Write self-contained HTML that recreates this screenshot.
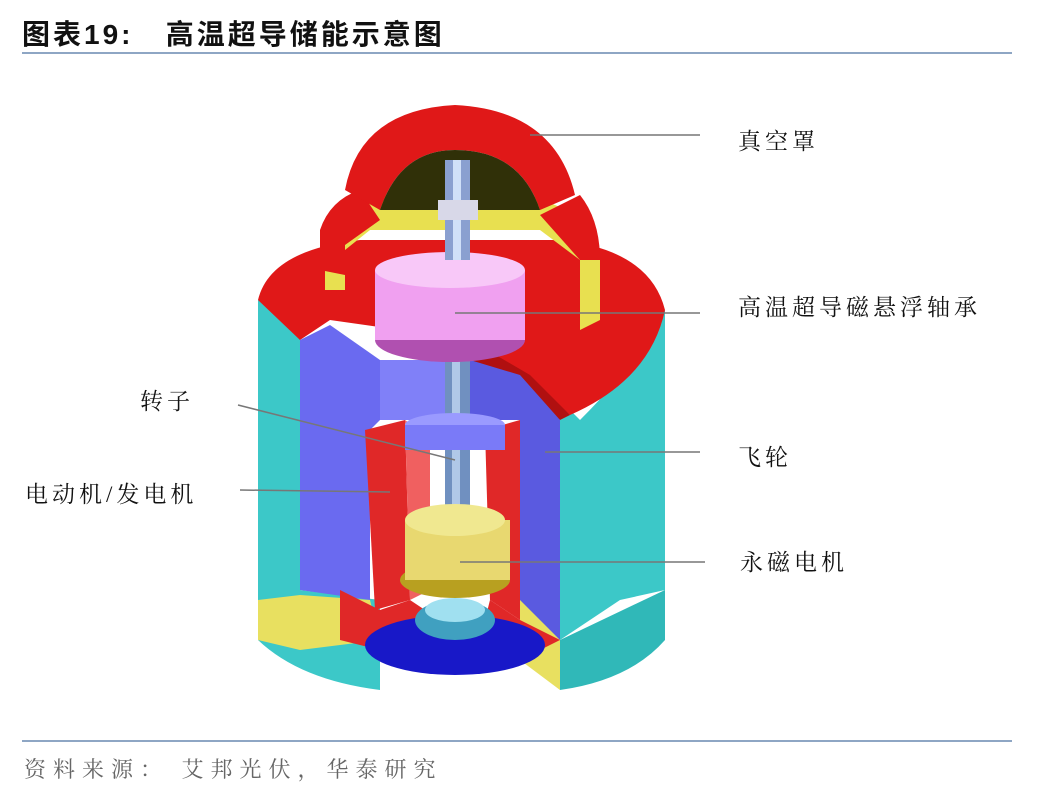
<!DOCTYPE html>
<html><head><meta charset="utf-8"><style>
body{margin:0;background:#fff;width:1048px;height:792px;overflow:hidden;position:relative;font-family:"Liberation Sans","Noto Sans CJK SC",sans-serif}
.t{position:absolute;left:22px;top:13px;font-size:28px;font-weight:bold;color:#111;letter-spacing:3px}
.l1{position:absolute;left:22px;top:52px;width:990px;height:2px;background:#8ea6c4}
.l2{position:absolute;left:22px;top:740px;width:990px;height:2px;background:#8ea6c4}
.src{position:absolute;left:24px;top:753px;font-size:22px;color:#666;letter-spacing:7px;font-family:"Liberation Serif","Noto Serif CJK SC",serif}
.lab{position:absolute;font-size:23px;color:#111;font-family:"Liberation Serif","Noto Serif CJK SC",serif;letter-spacing:4px}
</style></head><body>
<div class="t">图表19:&nbsp;&nbsp;&nbsp;高温超导储能示意图</div>
<div class="l1"></div>
<svg width="1048" height="792" style="position:absolute;left:0;top:0">
<path d="M258,300 L258,640 Q300,680 380,690 L380,600 L300,590 L300,330 Z" fill="#3cc8c8"/>
<path d="M560,400 L560,640 L620,600 L665,590 L665,310 Q640,360 580,420 Z" fill="#3cc8c8"/>
<path d="M560,640 L560,690 Q630,680 665,640 L665,590 Z" fill="#30b8b8"/>
<path d="M258,300 Q270,250 360,240 L560,240 Q650,250 665,310 Q650,380 570,415 L520,370 L470,340 L400,330 L330,320 L300,340 Z" fill="#e01818"/>
<path d="M470,340 L530,375 L570,415 L560,420 L500,380 L460,360 Z" fill="#b01010"/>
<path d="M300,340 L330,325 L380,360 L380,420 L370,430 L370,600 L300,590 Z" fill="#6a6af0"/>
<path d="M470,360 L520,375 L560,420 L560,640 L520,620 L520,420 L470,420 Z" fill="#5a5ae0"/>
<path d="M380,360 L470,360 L470,420 L380,420 Z" fill="#8080f8"/>
<path d="M258,600 L300,595 L370,600 L380,640 L300,650 L258,640 Z" fill="#e8e060"/>
<path d="M520,600 L560,640 L560,690 L520,660 Z" fill="#e8e060"/>
<path d="M365,430 L405,420 L410,600 L375,610 Z" fill="#e02828"/>
<path d="M405,420 L430,440 L430,590 L410,600 Z" fill="#f06060"/>
<path d="M485,430 L520,420 L520,620 L490,600 Z" fill="#e02828"/>
<path d="M340,590 L380,610 L410,600 L440,620 L440,640 L380,650 L340,640 Z" fill="#e02828"/>
<path d="M490,600 L520,620 L560,640 L520,660 L480,640 Z" fill="#e02828"/>
<ellipse cx="455" cy="645" rx="90" ry="30" fill="#1818c8"/>
<ellipse cx="455" cy="620" rx="40" ry="20" fill="#40a0c0"/>
<ellipse cx="455" cy="610" rx="30" ry="12" fill="#a0e0f0"/>
<rect x="445" y="360" width="25" height="220" fill="#7090c0"/>
<rect x="452" y="360" width="8" height="220" fill="#b0c8e8"/>
<ellipse cx="455" cy="425" rx="50" ry="12" fill="#9a9aff"/>
<rect x="405" y="425" width="100" height="25" fill="#7a7af8"/>
<ellipse cx="455" cy="580" rx="55" ry="18" fill="#b8a020"/>
<rect x="405" y="520" width="105" height="60" fill="#e8d870"/>
<ellipse cx="455" cy="520" rx="50" ry="16" fill="#f0e890"/>
<path d="M325,240 L340,215 L380,195 L530,195 L580,215 L600,260 L600,320 L580,330 L580,260 L540,230 L370,230 L345,250 L345,290 L325,290 Z" fill="#e8e050"/>
<path d="M320,230 Q330,200 360,190 L380,220 L345,245 L345,275 L320,270 Z" fill="#e01818"/>
<path d="M540,215 L580,195 Q600,220 600,260 L580,260 Z" fill="#e01818"/>
<path d="M345,190 Q360,110 455,105 Q555,110 575,195 L540,210 Q520,150 455,150 Q400,150 380,210 Z" fill="#e01818"/>
<path d="M380,210 Q400,150 455,150 Q520,150 540,210 Z" fill="#303008"/>
<ellipse cx="450" cy="340" rx="75" ry="22" fill="#b050b0"/>
<rect x="375" y="270" width="150" height="70" fill="#f0a0f0"/>
<ellipse cx="450" cy="270" rx="75" ry="18" fill="#f8c8f8"/>
<rect x="445" y="160" width="25" height="100" fill="#8aa0d0"/>
<rect x="453" y="160" width="8" height="100" fill="#d0e0f8"/>
<rect x="438" y="200" width="40" height="20" fill="#d8d8e8"/>
<g stroke="#777" stroke-width="1.5" fill="none">
<line x1="530" y1="135" x2="700" y2="135"/>
<line x1="455" y1="313" x2="700" y2="313"/>
<line x1="545" y1="452" x2="700" y2="452"/>
<line x1="460" y1="562" x2="705" y2="562"/>
<line x1="238" y1="405" x2="455" y2="460"/>
<line x1="240" y1="490" x2="390" y2="492"/>
</g>
</svg>
<div class="lab" style="left:738px;top:123px">真空罩</div>
<div class="lab" style="left:738px;top:289px">高温超导磁悬浮轴承</div>
<div class="lab" style="left:738px;top:439px">飞轮</div>
<div class="lab" style="left:740px;top:544px">永磁电机</div>
<div class="lab" style="left:140px;top:383px">转子</div>
<div class="lab" style="left:25px;top:476px">电动机/发电机</div>
<div class="l2"></div>
<div class="src">资料来源： 艾邦光伏，华泰研究</div>
</body></html>
